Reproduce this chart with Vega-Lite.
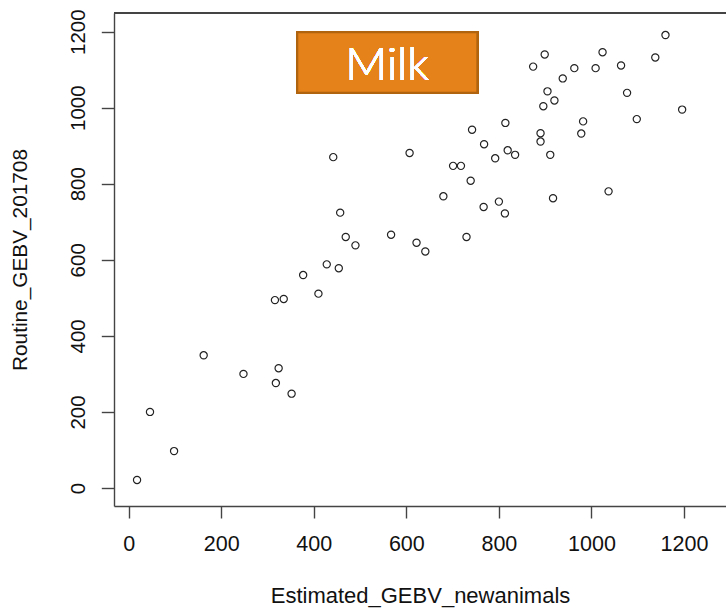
{
  "$schema": "https://vega.github.io/schema/vega-lite/v6.json",
  "width": 612,
  "height": 493,
  "autosize": {"type": "none"},
  "padding": {"left": 114, "top": 13, "right": 0, "bottom": 102},
  "background": "white",
  "config": {"view": {"stroke": null}, "font": "Liberation Sans"},
  "data": {"values": [
    {"est": 18, "rout": 21}, {"est": 46, "rout": 200}, {"est": 98, "rout": 97}, {"est": 162, "rout": 349},
    {"est": 248, "rout": 300}, {"est": 316, "rout": 494}, {"est": 335, "rout": 497}, {"est": 324, "rout": 315},
    {"est": 318, "rout": 276}, {"est": 352, "rout": 248}, {"est": 377, "rout": 560}, {"est": 410, "rout": 511},
    {"est": 428, "rout": 588}, {"est": 454, "rout": 578}, {"est": 490, "rout": 638}, {"est": 469, "rout": 660},
    {"est": 622, "rout": 645}, {"est": 641, "rout": 622}, {"est": 442, "rout": 870}, {"est": 607, "rout": 881},
    {"est": 457, "rout": 724}, {"est": 567, "rout": 666}, {"est": 1160, "rout": 1191}, {"est": 899, "rout": 1140},
    {"est": 874, "rout": 1108}, {"est": 1024, "rout": 1146}, {"est": 1138, "rout": 1132}, {"est": 963, "rout": 1104},
    {"est": 1009, "rout": 1104}, {"est": 1064, "rout": 1111}, {"est": 938, "rout": 1077}, {"est": 905, "rout": 1043},
    {"est": 920, "rout": 1019}, {"est": 896, "rout": 1004}, {"est": 1077, "rout": 1039}, {"est": 1196, "rout": 995},
    {"est": 1098, "rout": 970}, {"est": 982, "rout": 964}, {"est": 978, "rout": 932}, {"est": 890, "rout": 933},
    {"est": 890, "rout": 911}, {"est": 814, "rout": 960}, {"est": 742, "rout": 942}, {"est": 768, "rout": 904},
    {"est": 792, "rout": 867}, {"est": 819, "rout": 888}, {"est": 835, "rout": 876}, {"est": 911, "rout": 876},
    {"est": 701, "rout": 847}, {"est": 718, "rout": 847}, {"est": 739, "rout": 808}, {"est": 680, "rout": 767},
    {"est": 767, "rout": 739}, {"est": 800, "rout": 753}, {"est": 813, "rout": 722}, {"est": 917, "rout": 762},
    {"est": 1037, "rout": 780}, {"est": 730, "rout": 660}
  ]},
  "layer": [
    {
      "mark": {"type": "point", "shape": "circle", "filled": false, "size": 52, "stroke": "#222", "strokeWidth": 1.2, "opacity": 1},
      "encoding": {
        "x": {
          "field": "est", "type": "quantitative",
          "scale": {"domain": [-31.8, 1290.8], "nice": false, "zero": false},
          "axis": {
            "values": [0, 200, 400, 600, 800, 1000, 1200], "format": "d",
            "title": "Estimated_GEBV_newanimals",
            "grid": false, "domainColor": "#444", "domainWidth": 1.4,
            "tickColor": "#444", "tickWidth": 1.4, "tickSize": 12,
            "labelFontSize": 21.5, "labelPadding": 15, "labelColor": "#111",
            "labelFlush": false, "labelOverlap": false,
            "titleFontSize": 22, "titleFontWeight": "normal", "titleColor": "#111", "titlePadding": 31
          }
        },
        "y": {
          "field": "rout", "type": "quantitative",
          "scale": {"domain": [-47.4, 1249], "nice": false, "zero": false},
          "axis": {
            "values": [0, 200, 400, 600, 800, 1000, 1200], "format": "d",
            "title": "Routine_GEBV_201708",
            "grid": false, "domainColor": "#444", "domainWidth": 1.4,
            "tickColor": "#444", "tickWidth": 1.4, "tickSize": 12.7,
            "labelAngle": -90, "labelAlign": "center", "labelBaseline": "bottom",
            "labelFontSize": 20.5, "labelPadding": 13, "labelColor": "#111",
            "labelFlush": false, "labelOverlap": false,
            "titleFontSize": 20.8, "titleFontWeight": "normal", "titleColor": "#111", "titlePadding": 38
          }
        }
      }
    },
    {
      "mark": {"type": "rule", "color": "#444", "strokeWidth": 1.4},
      "encoding": {"y": {"datum": 1249, "type": "quantitative"}}
    },
    {
      "mark": {"type": "rect", "fill": "#E5821A", "stroke": "#B0640F", "strokeWidth": 2},
      "encoding": {
        "x": {"datum": 364.3, "type": "quantitative"},
        "x2": {"datum": 753.4},
        "y": {"datum": 1039.4, "type": "quantitative"},
        "y2": {"datum": 1198.3}
      }
    },
    {
      "mark": {"type": "text", "text": "Milk", "color": "white", "font": "Lato", "fontWeight": 300, "fontSize": 46, "align": "center", "baseline": "alphabetic"},
      "encoding": {
        "x": {"datum": 558.9, "type": "quantitative"},
        "y": {"datum": 1072.8, "type": "quantitative"}
      }
    }
  ]
}
